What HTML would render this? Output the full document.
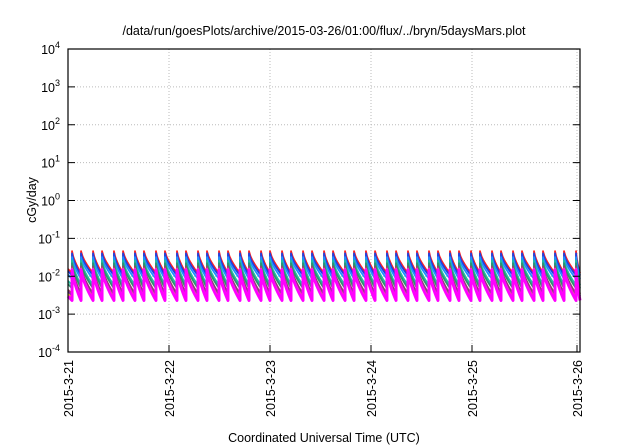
<!DOCTYPE html>
<html><head><meta charset="utf-8"><style>
html,body{margin:0;padding:0;background:#fff;}
svg{display:block;font-family:"Liberation Sans",sans-serif;}
</style></head><body>
<svg id="chart" width="640" height="448" viewBox="0 0 640 448">
<text x="324" y="35" font-size="12.5" text-anchor="middle">/data/run/goesPlots/archive/2015-03-26/01:00/flux/../bryn/5daysMars.plot</text>
<text transform="translate(36,200) rotate(-90)" font-size="12.5" text-anchor="middle">cGy/day</text>
<text x="324" y="442" font-size="12.5" text-anchor="middle">Coordinated Universal Time (UTC)</text>
<g id="grid"></g><g id="series"></g><g id="axes"></g>
</svg>
<script>
const dayLabels = ["2015-3-21","2015-3-22","2015-3-23","2015-3-24","2015-3-25","2015-3-26"];
const yExps = [-4,-3,-2,-1,0,1,2,3,4];
const peakDays = [0.040,0.129,0.248,0.337,0.455,0.545,0.663,0.752,0.871,0.960,1.079,1.168,1.287,1.376,1.495,1.584,1.703,1.792,1.911,2.000,2.119,2.208,2.327,2.416,2.535,2.624,2.743,2.832,2.950,3.040,3.158,3.248,3.366,3.455,3.574,3.663,3.782,3.871,3.990,4.079,4.198,4.287,4.406,4.495,4.614,4.703,4.822,4.911,5.030];
const seriesNames = ["red","blue","azure","teal","green","brown","purple","yellow","magenta"];
const seriesColors = ["#ff2020","#2040e0","#1e90ff","#20c0a0","#309070","#a04060","#8030a0","#f0e000","#ff00ff"];
const seriesPeak = [0.046,0.040,0.032,0.026,0.022,0.018,0.017,0.016,0.015];
const seriesTrough = [0.012,0.0105,0.0085,0.0058,0.0048,0.0034,0.0030,0.0026,0.0023];
const L=68,R=580,T=49,B=352,PXD=101;
const NS="http://www.w3.org/2000/svg";
function xs(d){return L+d*PXD;}
function ys(v){return B-(Math.log10(v)+4)*(B-T)/8;}
function mk(tag,attrs,parent){const e=document.createElementNS(NS,tag);for(const k in attrs)e.setAttribute(k,attrs[k]);parent.appendChild(e);return e;}
const grid=document.getElementById('grid'),axes=document.getElementById('axes'),ser=document.getElementById('series');
yExps.forEach(p=>{
  const y=ys(Math.pow(10,p));
  if(p>-4&&p<4){const g=mk('line',{x1:L,x2:R,y1:y,y2:y,stroke:'#bbb','stroke-dasharray':'1,2'},grid);
  
  }
  const t=mk('line',{x1:L,x2:L+7,y1:y,y2:y,stroke:'#000'},axes);
  
  
  const t2=mk('line',{x1:R-7,x2:R,y1:y,y2:y,stroke:'#000'},axes);
  
  
  const lb=mk('text',{x:L-8,y:y+5,'font-size':'12.5','text-anchor':'end'},axes);
  
  
  lb.textContent='10';
  const sp=mk('tspan',{dy:-6,'font-size':'9'},lb);sp.textContent=String(p);
});
dayLabels.forEach((s,i)=>{
  const x=xs(i)+(i==5?4:0);
  if(i>0){const g=mk('line',{x1:x,x2:x,y1:T,y2:B,stroke:'#bbb','stroke-dasharray':'1,2'},grid);
  
  }
  const t=mk('line',{x1:x,x2:x,y1:B-7,y2:B,stroke:'#000'},axes);
  
  
  const lb=mk('text',{transform:`translate(${x+5},${B+8}) rotate(-90)`,'font-size':'12.5','text-anchor':'end'},axes);
  
  
  lb.textContent=s;
});
const fr=mk('rect',{x:L,y:T,width:R-L,height:B-T,fill:'none',stroke:'#000','stroke-width':1.2},axes);


seriesNames.forEach((n,si)=>{
  const pk=seriesPeak[si],tr=seriesTrough[si];
  let d='';
  const ends=peakDays.slice(1).concat([(R-L)/PXD]);
  // start segment before first peak
  d+=`M${L},${ys(tr*1.3)}L${xs(peakDays[0])},${ys(tr)}`;
  peakDays.forEach((p,i)=>{
    const e=ends[i],n2=8;
    d+=`L${xs(p)},${ys(pk)}`;
    for(let k=1;k<=n2;k++){const f=k/n2;const v=Math.exp(Math.log(pk)+(Math.log(tr)-Math.log(pk))*Math.pow(f,0.7));d+=`L${Math.min(xs(p+(e-p)*f),R)},${ys(v)}`;}
  });
  const path=mk('path',{d:d,fill:'none',stroke:seriesColors[si],'stroke-width':si==8?3:1.8,'stroke-linejoin':'round'},ser);
  
  
});
</script>
</body></html>
